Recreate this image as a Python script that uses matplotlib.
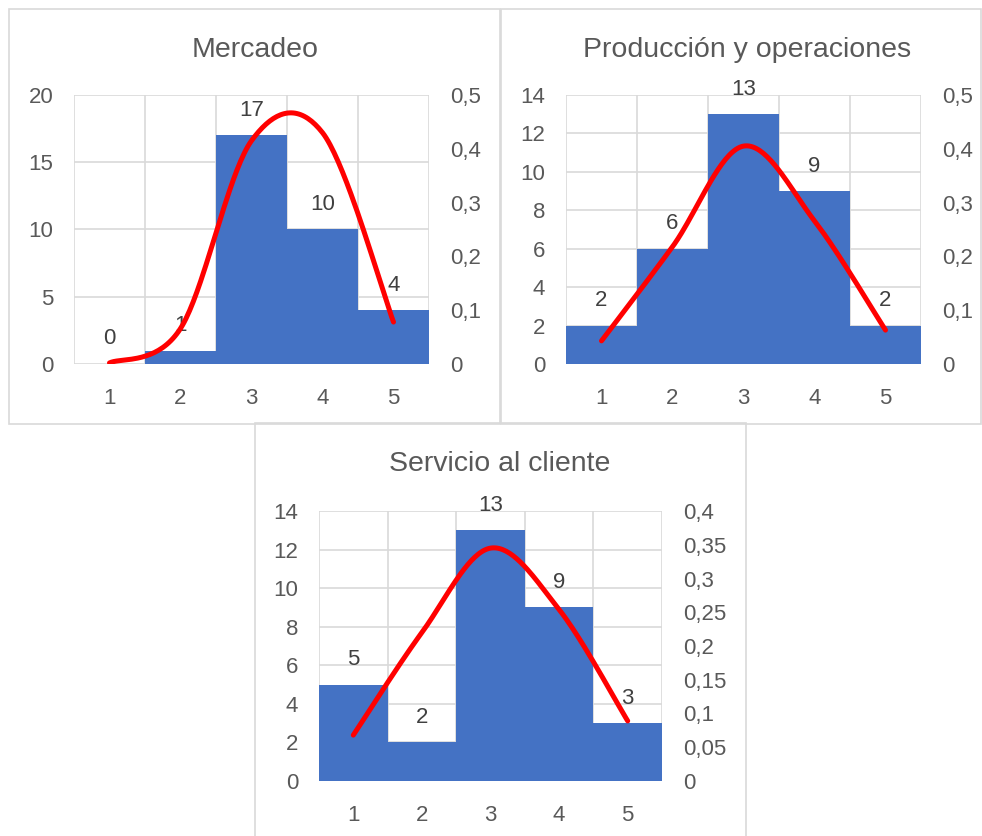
import matplotlib.pyplot as plt
import numpy as np
from matplotlib.patches import Rectangle
from matplotlib.ticker import FuncFormatter

plt.rcParams['font.family'] = ['Liberation Sans', 'DejaVu Sans']

# Datos
clases = [1, 2, 3, 4, 5]
titulos = ["Mercadeo", "Producción y operaciones", "Servicio al cliente"]
frec_mercadeo = [0, 1, 17, 10, 4]
frec_produccion = [2, 6, 13, 9, 2]
frec_servicio = [5, 2, 13, 9, 3]
normal_mercadeo = [0.002, 0.066, 0.415, 0.43, 0.078]
normal_produccion = [0.043, 0.218, 0.405, 0.266, 0.063]
normal_servicio = [0.068, 0.220, 0.345, 0.254, 0.089]

W, H = 982, 836
AZUL = "#4472C4"
GRIS_TXT = "#595959"
GRIS_LIN = "#D9D9D9"

fig = plt.figure(figsize=(W / 100, H / 100), dpi=100)


def px_rect(x0, y0, x1, y1):
    return [x0 / W, 1 - y1 / H, (x1 - x0) / W, (y1 - y0) / H]


def suavizar(x, y, n=40):
    # curva tipo Excel (Bezier con puntos de control Catmull-Rom)
    x = np.asarray(x, float)
    y = np.asarray(y, float)
    xs, ys = [], []
    for i in range(len(x) - 1):
        i0 = max(i - 1, 0)
        i3 = min(i + 2, len(x) - 1)
        p0 = np.array([x[i], y[i]])
        p3 = np.array([x[i + 1], y[i + 1]])
        p1 = p0 + (np.array([x[i + 1], y[i + 1]]) - np.array([x[i0], y[i0]])) / 6
        p2 = p3 - (np.array([x[i3], y[i3]]) - np.array([x[i], y[i]])) / 6
        t = np.linspace(0, 1, n)[:, None]
        pts = ((1 - t) ** 3) * p0 + 3 * ((1 - t) ** 2) * t * p1 + 3 * (1 - t) * t ** 2 * p2 + t ** 3 * p3
        xs.extend(pts[:, 0])
        ys.extend(pts[:, 1])
    return xs, ys


def coma(v, pos):
    s = ("%.2f" % v).rstrip("0").rstrip(".")
    return s.replace(".", ",")


def grafico(caja, area, titulo, tx, frec, normal, ymax, ystep, y2max, y2step):
    x0, y0, x1, y1 = caja
    fig.patches.append(Rectangle((x0 / W, 1 - y1 / H), (x1 - x0) / W, (y1 - y0) / H,
                                 transform=fig.transFigure, fill=False,
                                 edgecolor=GRIS_LIN, linewidth=1.2))
    fig.text(tx / W, 1 - (y0 + 41) / H, titulo, ha="center", va="center",
             fontsize=20.5, color=GRIS_TXT)

    ax = fig.add_axes(px_rect(*area))
    ax.bar(clases, frec, width=1.0, color=AZUL, zorder=2)
    for xi, v in zip(clases, frec):
        ax.annotate(str(v), (xi, v), xytext=(0, 18), textcoords="offset points",
                    ha="center", va="center", fontsize=16, color="#404040", zorder=5)
    ax.set_xlim(0.5, 5.5)
    ax.set_ylim(0, ymax)
    ax.set_yticks(np.arange(0, ymax + 0.01, ystep))
    ax.set_xticks(clases)
    ax.set_xticks([c + 0.5 for c in [0] + clases], minor=True)
    ax.grid(True, axis="y", color=GRIS_LIN, linewidth=1.2, zorder=0)
    ax.grid(True, axis="x", which="minor", color=GRIS_LIN, linewidth=1.2, zorder=0)
    ax.grid(False, axis="x", which="major")
    for s in ax.spines.values():
        s.set_visible(False)
    ax.tick_params(which="both", length=0, labelsize=16, colors=GRIS_TXT)
    ax.tick_params(axis="y", pad=15)
    ax.tick_params(axis="x", pad=17)
    ax.set_axisbelow(True)

    ax2 = ax.twinx()
    xs, ys = suavizar(clases, normal)
    ax2.plot(xs, ys, color="#FF0000", linewidth=3.6, solid_capstyle="round", zorder=4)
    ax2.set_ylim(0, y2max)
    ax2.set_yticks(np.arange(0, y2max + 1e-9, y2step))
    ax2.yaxis.set_major_formatter(FuncFormatter(coma))
    for s in ax2.spines.values():
        s.set_visible(False)
    ax2.tick_params(length=0, labelsize=16, colors=GRIS_TXT, pad=15)
    return ax


grafico((9, 9, 500, 424), (74, 95, 429, 364), titulos[0], 255,
        frec_mercadeo, normal_mercadeo, 20, 5, 0.5, 0.1)
grafico((501, 9, 981, 424), (566, 95, 921, 364), titulos[1], 747,
        frec_produccion, normal_produccion, 14, 2, 0.5, 0.1)
grafico((255, 423, 746, 840), (319, 511, 662, 781), titulos[2], 500,
        frec_servicio, normal_servicio, 14, 2, 0.4, 0.05)

fig.savefig("out.png", dpi=100)
